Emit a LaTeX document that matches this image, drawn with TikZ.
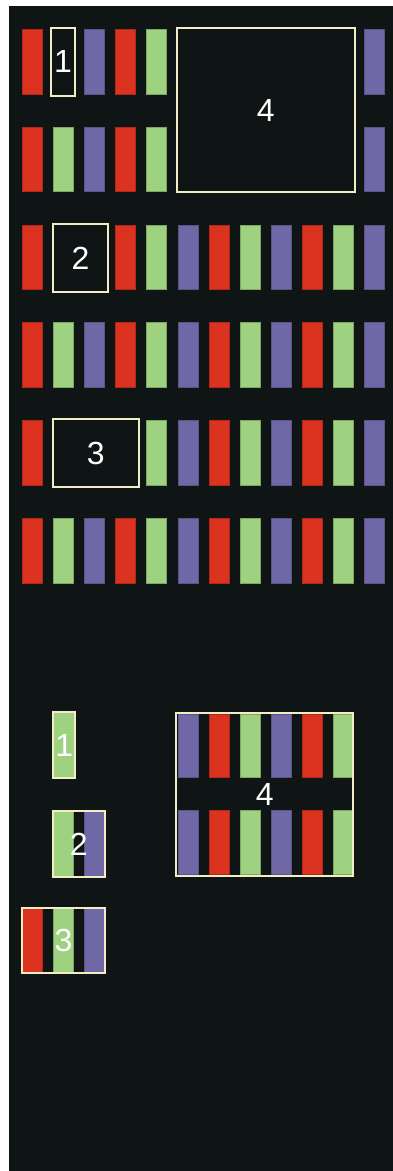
\documentclass[tikz,border=0pt]{standalone}
\usepackage{fontspec}
\setmainfont{Liberation Sans}
\definecolor{bg}{HTML}{0F1414}
\definecolor{cred}{HTML}{DC3220}
\definecolor{cgreen}{HTML}{9ED180}
\definecolor{cpurple}{HTML}{7068A6}
\definecolor{cream}{HTML}{F2EDC4}
\newcommand\colname[1]{\pgfmathtruncatemacro\m{mod(#1,3)}\ifcase\m\def\cn{cred}\or\def\cn{cgreen}\or\def\cn{cpurple}\fi}
\newcommand\barrow[2]{\foreach \c in {#2}{\colname{\c}\node[bar=\cn] (b#1-\c) at ({32.25+31.1*\c},{61.5+97.8*#1}) {};}}
\begin{document}
\begin{tikzpicture}[x=1pt,y=-1pt,
  bar/.style={rectangle, inner sep=0pt, minimum width=20pt, minimum height=64.5pt, fill=#1, draw=#1!80!black, line width=0.5pt},
  box/.style={rectangle, draw=cream, line width=1.9pt, inner sep=0pt, text=white, font=\fontsize{32}{32}\selectfont}]
\useasboundingbox (0,0) rectangle (393,1171);
\fill[bg] (9,6) rectangle (393,1171);
% top grid
\barrow{0}{0,2,3,4,11}
\barrow{1}{0,1,2,3,4,11}
\barrow{2}{0,3,4,5,6,7,8,9,10,11}
\barrow{3}{0,1,2,3,4,5,6,7,8,9,10,11}
\barrow{4}{0,4,5,6,7,8,9,10,11}
\barrow{5}{0,1,2,3,4,5,6,7,8,9,10,11}
\node[box, minimum width=23.4pt, minimum height=68pt] (t1) at (63,61.7) {1};
\node[box, minimum width=177.7pt, minimum height=164pt] (t4) at (265.8,110) {4};
\node[box, minimum width=55.6pt, minimum height=68.3pt] (t2) at (80.5,258.2) {2};
\node[box, minimum width=86.3pt, minimum height=67.4pt] (t3) at (95.8,453) {3};
% bottom section
\foreach \c in {1,2}{\colname{\c}\node[bar=\cn, minimum height=65pt] (p2-\c) at ({32.25+31.1*\c},844) {};}
\foreach \c in {0,1,2}{\colname{\c}\node[bar=\cn, minimum height=64.5pt] (p3-\c) at ({32.25+31.1*\c},940.7) {};}
\foreach \c in {5,...,10}{\colname{\c}\node[bar=\cn, minimum height=63.7pt] (p4a-\c) at ({32.25+31.1*\c},745.8) {};}
\foreach \c in {5,...,10}{\colname{\c}\node[bar=\cn, minimum height=63.7pt] (p4b-\c) at ({32.25+31.1*\c},842.5) {};}
\node[box, fill=cgreen, minimum width=21.7pt, minimum height=66.3pt] (s1) at (64.2,745.2) {1};
\node[box, minimum width=52.3pt, minimum height=65.4pt] (s2) at (78.8,844) {2};
\node[box, minimum width=83.6pt, minimum height=64.7pt] (s3) at (63.5,940.7) {3};
\node[box, minimum width=177pt, minimum height=162.4pt] (s4) at (264.8,794.5) {4};
\end{tikzpicture}
\end{document}
